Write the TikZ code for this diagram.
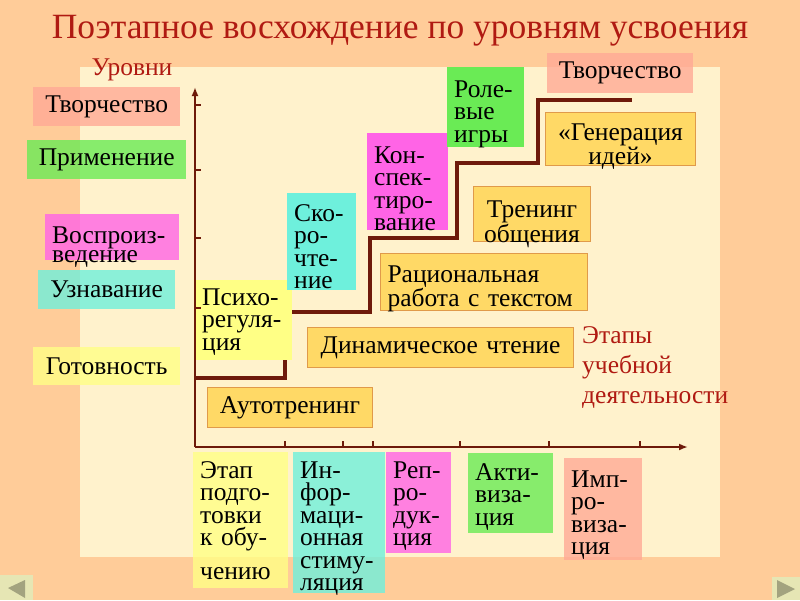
\documentclass[tikz,border=0pt]{standalone}
\usepackage{fontspec}
\setmainfont{Liberation Serif}
\usetikzlibrary{arrows.meta}

\definecolor{peach}{HTML}{FFCC99}
\definecolor{cream}{HTML}{FFF2CC}
\definecolor{darkred}{HTML}{B01A12}
\definecolor{stair}{HTML}{6E1A0A}
\definecolor{salmon}{HTML}{FFAA96}
\definecolor{lgreen}{HTML}{6AEB55}
\definecolor{pinkm}{HTML}{FF64E6}
\definecolor{cyanb}{HTML}{6EF0DC}
\definecolor{lyellow}{HTML}{FFFF85}
\definecolor{gold}{HTML}{FFD966}
\definecolor{goldline}{HTML}{E09A4A}
\definecolor{navbg}{HTML}{E6E6B4}
\definecolor{navtri}{HTML}{A3A37F}

\tikzset{
  lbl/.style={font=\fontsize{25.5}{22.5}\selectfont, anchor=north west, inner xsep=7pt, inner ysep=0pt},
  tag/.style={lbl, fill=#1, fill opacity=0.8, text opacity=1},
  goldtag/.style={lbl, fill=gold, draw=goldline, line width=1pt},
  redtxt/.style={font=\fontsize{25.5}{30}\selectfont, text=darkred, inner sep=0pt},
  axis/.style={stair, line width=2.5pt},
}

\begin{document}
\begin{tikzpicture}[x=1pt, y=-1pt]
  % Background and panel
  \fill[peach] (0,0) rectangle (800,600);
  \useasboundingbox (0,0) rectangle (800,600);
  \fill[cream] (80,67) rectangle (720,557);

  % Title
  \node[font=\fontsize{35.5}{38}\selectfont, text=darkred, anchor=base] (title) at (400,38) {Поэтапное восхождение по уровням усвоения};

  % --- STAIRCASE ---
  \coordinate (o) at (195,447);
  \draw[stair, line width=4pt, line join=miter] (195,378) -- (285,378) -- (285,312) -- (370,312) -- (370,238)
    -- (457,238) -- (457,163) -- (538,163) -- (538,100) -- (632,100);

  % --- LEVELS (left) ---
  \node[redtxt, anchor=base] (levels) at (132,75) {Уровни};
  \node[tag=salmon, text width=133pt, minimum height=39pt, align=center] (lvlCreate) at (33,87) {Творчество};
  \node[tag=lgreen, text width=145pt, minimum height=39pt, align=center] (lvlApply) at (27,140) {Применение};
  \node[tag=pinkm, text width=120pt, text height=29pt, text depth=17pt, align=left,
    font=\fontsize{25.5}{19}\selectfont] (lvlRepro) at (45,214) {Воспроиз-\\ведение};
  \node[tag=cyanb, text width=123pt, minimum height=39pt, align=center] (lvlKnow) at (38,270) {Узнавание};
  \node[tag=lyellow, text width=133pt, minimum height=38pt, align=center] (lvlReady) at (33,347) {Готовность};

  % --- STEPS ---
  \node[lbl, fill=lyellow, text width=83pt, text height=25pt, text depth=55pt, align=left] (psycho) at (195,280) {Психо-\\регуля-\\ция};
  \node[goldtag, text width=151pt, minimum height=40pt, align=center] (auto) at (207,387) {Аутотренинг};
  \node[lbl, fill=cyanb, text width=55pt, text height=28pt, text depth=69pt, align=left] (speed) at (287,193) {Ско-\\ро-\\чте-\\ние};
  \node[goldtag, text width=252pt, minimum height=40pt, align=center] (dyn) at (307,327) {Динамическое чтение};
  \node[lbl, fill=pinkm, text width=67pt, text height=30pt, text depth=67pt, align=left] (notes) at (367,133) {Кон-\\спек-\\тиро-\\вание};
  \node[goldtag, text width=193pt, text height=29pt, text depth=28pt, align=left] (rat) at (380,253) {Рациональная\\работа с текстом};
  \node[lbl, fill=lgreen, text width=63pt, text height=30pt, text depth=50pt, align=left] (role) at (447,67) {Роле-\\вые\\игры};
  \node[goldtag, text width=103pt, text height=31pt, text depth=24pt, align=center,
    font=\fontsize{25.5}{20}\selectfont] (talk) at (473,186) {Тренинг\\общения};
  \node[goldtag, text width=136pt, text height=28pt, text depth=25pt, align=center] (ideas) at (545,112) {«Генерация\\идей»};
  \node[tag=salmon, text width=132pt, minimum height=40pt, align=center] (topCreate) at (547,53) {Творчество};

  % --- STAGES (bottom) ---
  \node[tag=lyellow, text width=81pt, text height=26pt, text depth=110pt, align=left] (prep) at (193,452) {Этап\\подго-\\товки\\к обу-\\[11pt]чению};
  \node[tag=cyanb, text width=78pt, text height=26pt, text depth=115pt, align=left] (info) at (293,452) {Ин-\\фор-\\маци-\\онная\\стиму-\\ляция};
  \node[tag=pinkm, text width=51pt, text height=26pt, text depth=75pt, align=left] (reprod) at (386,452) {Реп-\\ро-\\дук-\\ция};
  \node[tag=lgreen, text width=71pt, text height=27pt, text depth=53pt, align=left] (activ) at (468,453) {Акти-\\виза-\\ция};
  \node[tag=salmon, text width=64pt, text height=29pt, text depth=73pt, align=left] (improv) at (564,458) {Имп-\\ро-\\виза-\\ция};
  \node[redtxt, anchor=north west, align=left] (stages) at (582,326) {Этапы\\учебной\\деятельности};

  % --- AXES ---
  \coordinate (ytip) at (195,87);
  \coordinate (xtip) at (688,447);
  \draw[axis, -{Latex[length=9pt,width=7pt]}] (o) -- (ytip);
  \draw[axis, -{Latex[length=9pt,width=7pt]}] (o) -- (xtip);
  \foreach \ty in {105,170,238,308} \draw[stair, line width=1.5pt] (195,\ty) -- (201,\ty);
  \foreach \tx in {285,343,373,460,549,640} \draw[stair, line width=1.5pt] (\tx,447) -- (\tx,441);

  % Navigation buttons
  \fill[navbg] (0,575) rectangle (33,600);
  \fill[navtri] (8,588) -- (25,580) -- (25,598) -- cycle;
  \fill[navbg] (772,577) rectangle (800,600);
  \fill[navtri] (777,580) -- (795,589) -- (777,598) -- cycle;
\end{tikzpicture}
\end{document}
